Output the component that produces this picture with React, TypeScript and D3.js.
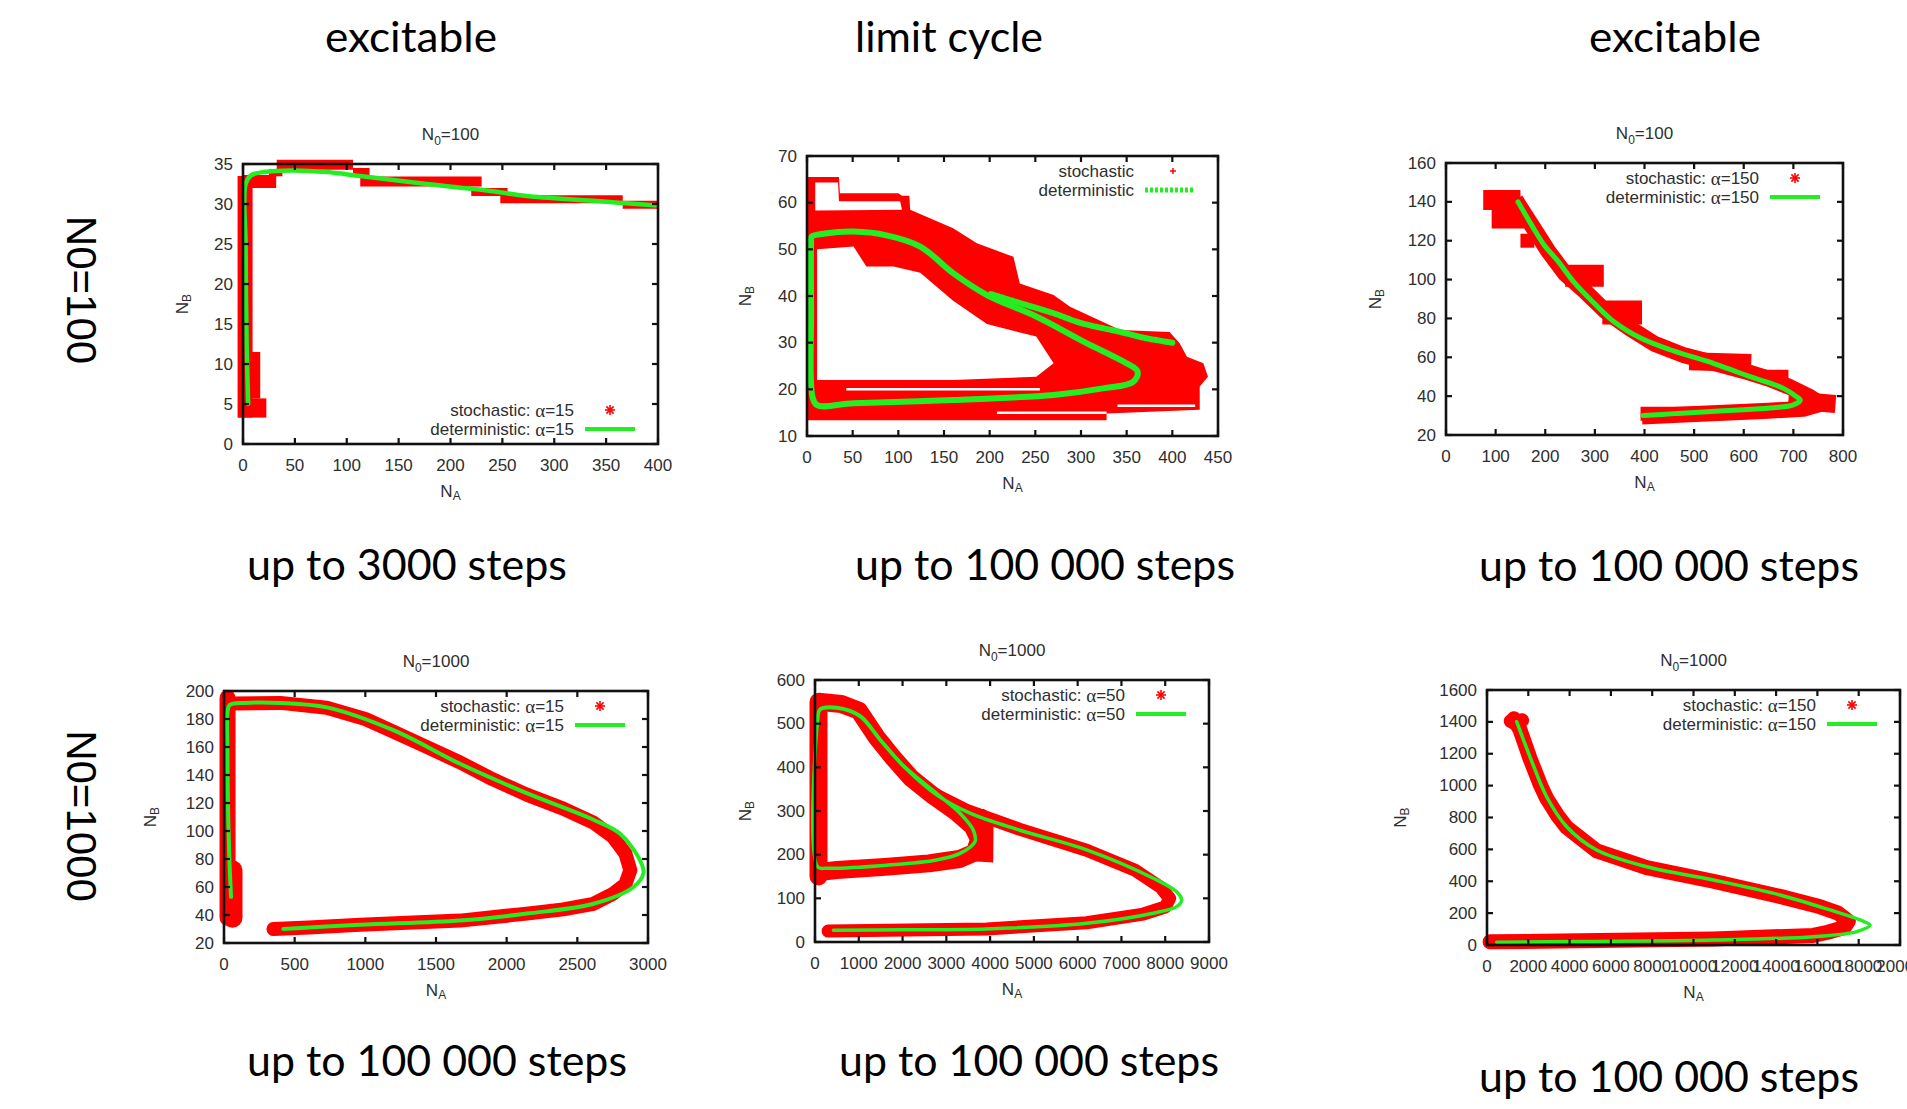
import React from 'react'
import * as d3 from 'd3'

type Pt = [number, number]

// ---- column / row captions
const headers = ['excitable', 'limit cycle', 'excitable']
const rowLabels = ['N0=100', 'N0=1000']
const footers = ['up to 3000 steps', 'up to 100 000 steps', 'up to 100 000 steps', 'up to 100 000 steps', 'up to 100 000 steps', 'up to 100 000 steps']

// ---- panel 1: N0=100, alpha=15
const p1XTicks = [0, 50, 100, 150, 200, 250, 300, 350, 400]
const p1YTicks = [0, 5, 10, 15, 20, 25, 30, 35]
const p1Det: Pt[] = [[5, 5], [3.5, 12.5], [2.5, 25], [2.5, 32.5], [8, 33.6], [20, 34], [48, 34.2], [81, 34], [113, 33.5], [177, 32.5], [241, 31.6], [273, 31], [338, 30.4], [399, 29.8]]
const p1Stoch: Pt[][] = [
  [[2, 3.3], [2, 33.5]],
  [[9, 3.3], [9, 5.7]],
  [[6, 5.7], [6, 11.5]],
  [[0, 32.8], [32, 32.8]],
  [[25, 33.9], [38, 33.9]],
  [[32.5, 34.9], [106, 34.9]],
  [[106, 34], [122, 34]],
  [[113, 32.8], [230, 32.8]],
  [[220, 31.5], [255, 31.5]],
  [[248, 30.6], [366, 30.6]],
  [[366, 29.9], [400, 29.9]],
]

// ---- panel 2: limit cycle, N0=100
const p2XTicks = [0, 50, 100, 150, 200, 250, 300, 350, 400, 450]
const p2YTicks = [10, 20, 30, 40, 50, 60, 70]
const p2Cycle: Pt[] = [[5, 52.7], [20, 53.4], [51, 53.8], [87, 53], [124, 50.6], [160, 44.9], [197, 40.2], [251, 35.6], [306, 29.9], [343, 26.3], [362, 23.8], [357, 21.6], [324, 20.2], [270, 18.8], [160, 17.7], [51, 17], [11, 16.6], [6, 18.4], [4.5, 37], [4.5, 51.3]]
const p2Transient: Pt[] = [[400, 30], [370, 31], [343, 32.3], [300, 34.2], [270, 36.3], [233, 38.5], [200, 40.5]]
const p2Cloud: Pt[] = [[1, 13.4], [1, 65.5], [35, 65.5], [36, 62], [100, 62], [104, 61.5], [112, 61.5], [113, 58.5], [160, 54.5], [186, 51.3], [226, 48.4], [233, 42.7], [270, 40.2], [288, 37.7], [343, 32.7], [397, 32.3], [408, 29.9], [416, 27], [434, 25.6], [439, 22.7], [430, 20.6], [430, 15.6], [328, 14.8], [328, 13.4]]
const p2Holes: Pt[][] = [
  [[11, 22], [11, 50], [51, 50.6], [65, 46.3], [95, 46.3], [124, 45], [160, 39], [197, 34], [251, 31.3], [270, 25.6], [251, 22.7], [160, 22], [14, 22]],
  [[9, 64.3], [34, 64.3], [35, 60.3], [102, 60.3], [104, 58.5], [9, 58.3]],
]
const p2Gaps: Pt[][] = [
  [[43, 20], [255, 20]],
  [[208, 15], [328, 15]],
  [[340, 16.5], [425, 16.5]],
]

// ---- panel 3: N0=100, alpha=150
const p3XTicks = [0, 100, 200, 300, 400, 500, 600, 700, 800]
const p3YTicks = [20, 40, 60, 80, 100, 120, 140, 160]
const p3Det: Pt[] = [[145, 140], [175, 127], [200, 117], [224, 110], [260, 98], [296, 88.5], [340, 78], [391, 70], [450, 64], [526, 58], [570, 54], [613, 50], [650, 47], [680, 44], [705, 40], [714, 38], [700, 35.5], [660, 34], [600, 33], [526, 32], [460, 31], [397, 30]]
const p3Stoch: Pt[][] = [
  [[140, 141], [175, 127], [205, 115], [240, 103], [280, 94], [320, 84], [370, 75], [420, 67], [480, 61], [540, 57], [600, 53], [650, 49], [690, 45], [730, 40], [755, 36], [720, 33.5], [650, 32.5], [560, 31.5], [480, 30.5], [395, 29.5]],
  [[75, 141], [150, 141]],
  [[92, 132], [158, 132]],
  [[150, 120], [178, 120]],
  [[240, 102], [318, 102]],
  [[315, 83], [395, 83]],
  [[490, 58], [615, 57]],
  [[610, 51], [690, 51]],
  [[690, 38], [785, 36]],
  [[392, 31], [520, 31]],
]

// ---- panel 4: N0=1000, alpha=15
const p4XTicks = [0, 500, 1000, 1500, 2000, 2500, 3000]
const p4YTicks = [20, 40, 60, 80, 100, 120, 140, 160, 180, 200]
const p4Det: Pt[] = [[50, 53], [38, 80], [28, 120], [24, 160], [25, 185], [40, 190], [150, 191.5], [400, 191.5], [727, 188.3], [1198, 172], [1670, 148], [2142, 127], [2614, 108], [2803, 98], [2944, 79], [2968, 70], [2897, 60], [2614, 48], [2142, 41], [1670, 36], [962, 33], [420, 30]]
const p4Stoch: Pt[][] = [
  [[25, 38], [25, 195]],
  [[60, 38], [60, 72]],
  [[60, 191], [400, 191.5], [727, 188], [1000, 180], [1198, 171], [1435, 160], [1670, 149], [1900, 137], [2142, 126], [2400, 116], [2614, 106], [2750, 96], [2840, 84], [2875, 72], [2840, 62], [2750, 55], [2614, 48], [2400, 44], [2142, 41], [1670, 36], [962, 33], [600, 31], [350, 30]],
]

// ---- panel 5: N0=1000, alpha=50
const p5XTicks = [0, 1000, 2000, 3000, 4000, 5000, 6000, 7000, 8000, 9000]
const p5YTicks = [0, 100, 200, 300, 400, 500, 600]
const p5Det: Pt[] = [[419, 27], [2000, 28], [3921, 30], [6205, 43], [7727, 66], [8260, 81], [8375, 96], [8260, 115], [7727, 146], [6205, 211], [4682, 256], [3540, 295], [2780, 337], [2017, 403], [1485, 463], [1028, 517], [496, 536], [114, 532], [61, 508], [61, 172], [267, 169], [1638, 176], [2780, 188], [3312, 203], [3655, 230], [3617, 256], [3312, 295], [2780, 340], [2017, 404], [1485, 464], [1028, 518], [496, 537], [114, 533], [61, 509]]
const p5Stoch: Pt[][] = [
  [[80, 150], [80, 550], [600, 545], [1000, 530], [1400, 470], [1800, 420], [2200, 375], [2700, 335], [3200, 300], [3600, 265], [3750, 235], [3650, 205], [3300, 190], [2600, 180], [1600, 172], [500, 165], [80, 160]],
  [[2700, 340], [3500, 300], [4682, 258], [6205, 210], [7300, 165], [7900, 125], [8100, 100], [8000, 80], [7500, 64], [6205, 44], [3921, 30], [300, 25]],
]
const p5Cloud: Pt[] = [[3600, 185], [4070, 182], [4080, 290], [3850, 305], [3600, 290], [3720, 240]]

// ---- panel 6: N0=1000, alpha=150
const p6XTicks = [0, 2000, 4000, 6000, 8000, 10000, 12000, 14000, 16000, 18000, 20000]
const p6YTicks = [0, 200, 400, 600, 800, 1000, 1200, 1400, 1600]
const p6Det: Pt[] = [[1436, 1401], [2082, 1181], [2890, 930], [3860, 742], [5312, 596], [7734, 491], [10960, 408], [14189, 314], [16610, 220], [18063, 157], [18547, 125], [17901, 84], [15803, 52], [10960, 31], [4504, 22], [470, 18]]
const p6Stoch: Pt[][] = [
  [[1300, 1420], [1600, 1350], [2082, 1170], [2600, 1000], [2890, 920], [3400, 815], [3860, 738], [5312, 590], [7734, 485], [10960, 400], [14189, 305], [16000, 245], [17000, 200], [17500, 150], [17300, 110], [16500, 80], [15803, 60], [10960, 38], [4504, 26], [150, 20]],
  [[1150, 1405], [1450, 1385], [1700, 1410]],
]

interface PanelCfg {
  box: [number, number, number, number]
  xDomain: [number, number]
  yDomain: [number, number]
  xTicks: number[]
  yTicks: number[]
  title?: string
  nbX: number
  legendAt: 'top' | 'bottom'
  stoch: string
  det: string
  alpha?: string
  marker: 'star' | 'plus'
  green: Pt[][]
  greenW: number
  greenDash?: string[]
  closedFirst?: boolean
  red: Pt[][]
  redW: number[]
  cap: 'butt' | 'round'
  cloud?: Pt[]
  holes?: Pt[][]
  gaps?: Pt[][]
}

const panels: PanelCfg[] = [
  {
    box: [243, 164, 658, 444], xDomain: [0, 400], yDomain: [0, 35], xTicks: p1XTicks, yTicks: p1YTicks,
    title: '100', nbX: 182, legendAt: 'bottom', stoch: 'stochastic: ', det: 'deterministic: ', alpha: '15', marker: 'star',
    green: [p1Det], greenW: 4.5, red: p1Stoch, redW: [15, 28, 22, 13, 7, 10, 8, 10, 8, 8, 8], cap: 'butt',
  },
  {
    box: [807, 156, 1218, 436], xDomain: [0, 450], yDomain: [10, 70], xTicks: p2XTicks, yTicks: p2YTicks,
    nbX: 745, legendAt: 'top', stoch: 'stochastic', det: 'deterministic', marker: 'plus',
    green: [p2Cycle, p2Transient], greenW: 6, greenDash: ['', '3,2'], closedFirst: true,
    red: [], redW: [], cap: 'butt', cloud: p2Cloud, holes: p2Holes, gaps: p2Gaps,
  },
  {
    box: [1446, 163, 1843, 435], xDomain: [0, 800], yDomain: [20, 160], xTicks: p3XTicks, yTicks: p3YTicks,
    title: '100', nbX: 1375, legendAt: 'top', stoch: 'stochastic: ', det: 'deterministic: ', alpha: '150', marker: 'star',
    green: [p3Det], greenW: 5, red: p3Stoch, redW: [16, 20, 22, 14, 22, 24, 18, 10, 18, 14], cap: 'butt',
  },
  {
    box: [224, 691, 648, 943], xDomain: [0, 3000], yDomain: [20, 200], xTicks: p4XTicks, yTicks: p4YTicks,
    title: '1000', nbX: 150, legendAt: 'top', stoch: 'stochastic: ', det: 'deterministic: ', alpha: '15', marker: 'star',
    green: [p4Det], greenW: 4, red: p4Stoch, redW: [16, 20, 14], cap: 'round',
  },
  {
    box: [815, 680, 1209, 942], xDomain: [0, 9000], yDomain: [0, 600], xTicks: p5XTicks, yTicks: p5YTicks,
    title: '1000', nbX: 745, legendAt: 'top', stoch: 'stochastic: ', det: 'deterministic: ', alpha: '50', marker: 'star',
    green: [p5Det], greenW: 3.5, red: p5Stoch, redW: [18, 13], cap: 'round', cloud: p5Cloud,
  },
  {
    box: [1487, 690, 1900, 945], xDomain: [0, 20000], yDomain: [0, 1600], xTicks: p6XTicks, yTicks: p6YTicks,
    title: '1000', nbX: 1400, legendAt: 'top', stoch: 'stochastic: ', det: 'deterministic: ', alpha: '150', marker: 'star',
    green: [p6Det], greenW: 3.5, red: p6Stoch, redW: [15, 14], cap: 'round',
  },
]

const FONT = '"Liberation Sans", Arial, sans-serif'
const HEAD = 'Lato, "Open Sans", sans-serif'
const RED = '#ff0000'
const GREEN = '#22ee22'
const INK = '#2e2e2e'

function Star({ cx, cy, r }: { cx: number; cy: number; r: number }) {
  const d = r * 0.72
  return (
    <g stroke={RED} strokeWidth={1.6}>
      <line x1={cx - r} y1={cy} x2={cx + r} y2={cy} />
      <line x1={cx} y1={cy - r} x2={cx} y2={cy + r} />
      <line x1={cx - d} y1={cy - d} x2={cx + d} y2={cy + d} />
      <line x1={cx - d} y1={cy + d} x2={cx + d} y2={cy - d} />
    </g>
  )
}

function Panel({ c }: { c: PanelCfg }) {
  const [l, t, r, b] = c.box
  const x = d3.scaleLinear().domain(c.xDomain).range([l, r])
  const y = d3.scaleLinear().domain(c.yDomain).range([b, t])
  const line = d3.line<Pt>().x(d => x(d[0])).y(d => y(d[1]))
  const smooth = d3.line<Pt>().x(d => x(d[0])).y(d => y(d[1])).curve(d3.curveCatmullRom.alpha(0.5))
  const loop = d3.line<Pt>().x(d => x(d[0])).y(d => y(d[1])).curve(d3.curveCatmullRomClosed.alpha(0.5))
  const cx = (l + r) / 2
  const cy = (t + b) / 2
  const row1 = c.legendAt === 'top' ? t + 15 : b - 34
  const row2 = row1 + 19
  const tickLen = 6

  return (
    <g>
      {/* stochastic cloud */}
      {c.cloud && <path d={line(c.cloud) + 'Z'} fill={RED} />}
      {c.holes && c.holes.map((h, i) => <path key={i} d={line(h) + 'Z'} fill="#fff" />)}
      {c.red.map((p, i) => (
        <path key={i} d={line(p) || ''} fill="none" stroke={RED} strokeWidth={c.redW[i]}
          strokeLinecap={c.cap} strokeLinejoin="round" />
      ))}
      {c.gaps && c.gaps.map((g, i) => <path key={i} d={line(g) || ''} stroke="#fff" strokeWidth={2.5} />)}

      {/* deterministic */}
      {c.green.map((p, i) => (
        <path key={i} d={(c.closedFirst && i === 0 ? loop(p) : smooth(p)) || ''} fill="none" stroke={GREEN}
          strokeWidth={c.greenW} strokeDasharray={c.greenDash ? c.greenDash[i] || undefined : undefined}
          strokeLinejoin="round" strokeLinecap="round" />
      ))}

      {/* border and mirrored ticks */}
      <rect x={l} y={t} width={r - l} height={b - t} fill="none" stroke="#111" strokeWidth={2.6} />
      {c.xTicks.map(v => (
        <g key={'x' + v} stroke="#111" strokeWidth={2.2}>
          <line x1={x(v)} x2={x(v)} y1={b} y2={b - tickLen} />
          <line x1={x(v)} x2={x(v)} y1={t} y2={t + tickLen} />
        </g>
      ))}
      {c.yTicks.map(v => (
        <g key={'y' + v} stroke="#111" strokeWidth={2.2}>
          <line x1={l} x2={l + tickLen} y1={y(v)} y2={y(v)} />
          <line x1={r} x2={r - tickLen} y1={y(v)} y2={y(v)} />
        </g>
      ))}

      <g fontFamily={FONT} fontSize={17} fill={INK}>
        {c.xTicks.map(v => (
          <text key={'xl' + v} x={x(v)} y={b + 21} textAnchor="middle" dominantBaseline="central">{v}</text>
        ))}
        {c.yTicks.map(v => (
          <text key={'yl' + v} x={l - 10} y={y(v)} textAnchor="end" dominantBaseline="central">{v}</text>
        ))}
        <text x={cx} y={b + 47} textAnchor="middle" dominantBaseline="central">
          N<tspan fontSize={12} dy={5}>A</tspan>
        </text>
        <text transform={`translate(${c.nbX},${cy}) rotate(-90)`} textAnchor="middle" dominantBaseline="central">
          N<tspan fontSize={12} dy={5}>B</tspan>
        </text>
        {c.title && (
          <text x={cx} y={t - 24} textAnchor="middle">
            N<tspan fontSize={12} dy={5}>0</tspan><tspan dy={-5}>={c.title}</tspan>
          </text>
        )}

        {/* legend */}
        <text x={r - 84} y={row1} textAnchor="end" dominantBaseline="central">
          {c.stoch}
          {c.alpha && <tspan fontFamily='"Liberation Serif", serif' fontSize={19}>α</tspan>}
          {c.alpha && '=' + c.alpha}
        </text>
        <text x={r - 84} y={row2} textAnchor="end" dominantBaseline="central">
          {c.det}
          {c.alpha && <tspan fontFamily='"Liberation Serif", serif' fontSize={19}>α</tspan>}
          {c.alpha && '=' + c.alpha}
        </text>
      </g>
      {c.marker === 'star' ? (
        <Star cx={r - 48} cy={row1} r={5} />
      ) : (
        <g stroke={RED} strokeWidth={1.5}>
          <line x1={r - 48} x2={r - 42} y1={row1} y2={row1} />
          <line x1={r - 45} x2={r - 45} y1={row1 - 3} y2={row1 + 3} />
        </g>
      )}
      <line x1={r - 73} x2={r - 23} y1={row2} y2={row2} stroke={GREEN} strokeWidth={c.marker === 'plus' ? 5 : 4}
        strokeDasharray={c.marker === 'plus' ? '3,2' : undefined} />
    </g>
  )
}

const headerX = [411, 949, 1675]
const headerW = [172, 188, 172]
const footerPos: Pt[] = [[407, 580], [1045, 580], [1669, 581], [437, 1076], [1029, 1076], [1669, 1092]]
const footerW = [320, 380, 380, 380, 380, 380]

export default function App() {
  return (
    <svg width={1907} height={1109} style={{ position: 'fixed', left: 0, top: 0, background: '#fff' }}>
      <rect width={1907} height={1109} fill="#fff" />
      {headers.map((h, i) => (
        <text key={h + i} x={headerX[i]} y={52} textAnchor="middle" fontFamily={HEAD} fontSize={42}
          textLength={headerW[i]} lengthAdjust="spacingAndGlyphs" fill="#000">{h}</text>
      ))}
      {rowLabels.map((s, i) => (
        <text key={s} transform={`translate(81,${i === 0 ? 290 : 816}) rotate(90)`} textAnchor="middle"
          dominantBaseline="central" fontFamily={FONT} fontSize={42} fill="#000">{s}</text>
      ))}
      {footers.map((s, i) => (
        <text key={i} x={footerPos[i][0]} y={footerPos[i][1]} textAnchor="middle" fontFamily={HEAD} fontSize={42}
          textLength={footerW[i]} lengthAdjust="spacingAndGlyphs" fill="#000">{s}</text>
      ))}
      {panels.map((c, i) => <Panel key={i} c={c} />)}
    </svg>
  )
}
